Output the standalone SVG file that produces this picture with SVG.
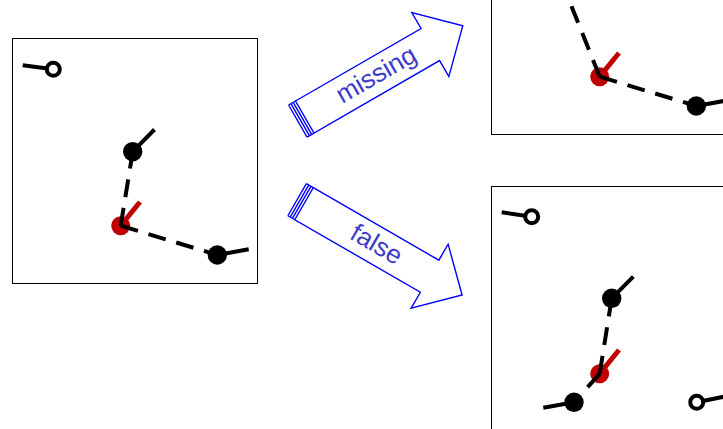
<svg xmlns="http://www.w3.org/2000/svg" xmlns:xlink="http://www.w3.org/1999/xlink" width="723" height="429" viewBox="0 0 723 429">
  <style>
    .box { fill: none; stroke: #000; stroke-width: 1; }
    .tail { stroke: #000; stroke-width: 4; fill: none; }
    .dot { fill: #000; }
    .open { fill: #fff; stroke: #000; stroke-width: 4; }
    .red { fill: #c00000; }
    .redtail { stroke: #c00000; stroke-width: 5; fill: none; }
    .dash { stroke: #000; stroke-width: 4; stroke-dasharray: 18 11; fill: none; }
    .arrow { fill: #fff; stroke: #0000ff; stroke-width: 1.4; stroke-linejoin: miter; }
    .lbl { font-family: "Liberation Sans", Arial, sans-serif; font-size: 26px; fill: #3c3cc8; text-anchor: middle; }
  </style>
  <defs>
    <!-- block arrow drawn along +x, 37 wide, with a striped tail -->
    <g id="bigArrow">
      <polygon class="arrow" points="0,0 145,0 145,-18.5 182.5,18.5 145,55.5 145,37 0,37"/>
      <path class="arrow" d="M-8,0 H0 M-8,37 H0 M-8,0 V37 M-5.3,0 V37 M-2.7,0 V37"/>
    </g>
  </defs>

  <!-- left panel -->
  <g id="panel-left" transform="translate(12,38)">
    <rect class="box" x="0.5" y="0.5" width="245" height="245"/>
    <g id="L-red">
      <circle class="red" cx="108.7" cy="187.7" r="9.5"/>
      <line class="redtail" x1="108.7" y1="187.7" x2="128" y2="164"/>
    </g>
    <g id="L-connectors">
      <path class="dash" d="M108.7,187.7 L120.7,113.7"/>
      <path class="dash" d="M108.7,187.7 L205.3,217"/>
    </g>
    <g id="L-open1">
      <line class="tail" x1="41.3" y1="31.3" x2="10.7" y2="27.3"/>
      <circle class="open" cx="41.3" cy="31.3" r="6.5"/>
    </g>
    <g id="L-node1">
      <line class="tail" x1="120.7" y1="113.7" x2="142.5" y2="91.5"/>
      <circle class="dot" cx="120.7" cy="113.7" r="9.7"/>
    </g>
    <g id="L-node2">
      <line class="tail" x1="205.3" y1="217" x2="236.7" y2="211.3"/>
      <circle class="dot" cx="205.3" cy="217" r="9.7"/>
    </g>
  </g>

  <!-- upper arrow -->
  <g id="arrow-missing" transform="translate(295.5,101) rotate(-30)">
    <use xlink:href="#bigArrow"/>
    <text class="lbl" x="83" y="26">missing</text>
  </g>

  <!-- lower arrow -->
  <g id="arrow-false" transform="translate(313.3,187.7) rotate(30)">
    <use xlink:href="#bigArrow"/>
    <text class="lbl" x="83" y="26">false</text>
  </g>

  <!-- upper right panel -->
  <g id="panel-missing" transform="translate(491,-111)">
    <rect class="box" x="0.5" y="0.5" width="245" height="245"/>
    <g id="M-red">
      <circle class="red" cx="108.7" cy="187.7" r="9.5"/>
      <line class="redtail" x1="108.7" y1="187.7" x2="128" y2="164"/>
    </g>
    <g id="M-connectors">
      <path class="dash" d="M108.7,187.7 L60.3,66.8"/>
      <path class="dash" d="M108.7,187.7 L205.3,217"/>
    </g>
    <g id="M-node2">
      <line class="tail" x1="205.3" y1="217" x2="236.7" y2="211.3"/>
      <circle class="dot" cx="205.3" cy="217" r="9.7"/>
    </g>
  </g>

  <!-- lower right panel -->
  <g id="panel-false" transform="translate(491,186)">
    <rect class="box" x="0.5" y="0.5" width="245" height="245"/>
    <g id="F-red">
      <circle class="red" cx="108.7" cy="187.7" r="9.5"/>
      <line class="redtail" x1="108.7" y1="187.7" x2="128" y2="164"/>
    </g>
    <g id="F-connectors">
      <path class="dash" d="M108.7,187.7 L120.7,112.3"/>
      <path class="dash" d="M108.7,187.7 L83,216.3"/>
    </g>
    <g id="F-open1">
      <line class="tail" x1="40.7" y1="30.7" x2="10.7" y2="26.3"/>
      <circle class="open" cx="40.7" cy="30.7" r="6.5"/>
    </g>
    <g id="F-node1">
      <line class="tail" x1="120.7" y1="112.3" x2="142.3" y2="90.7"/>
      <circle class="dot" cx="120.7" cy="112.3" r="9.7"/>
    </g>
    <g id="F-node3">
      <line class="tail" x1="83" y1="216.3" x2="52.3" y2="221.7"/>
      <circle class="dot" cx="83" cy="216.3" r="9.7"/>
    </g>
    <g id="F-open2">
      <line class="tail" x1="205.7" y1="216.3" x2="236.3" y2="210"/>
      <circle class="open" cx="205.7" cy="216.3" r="6.5"/>
    </g>
  </g>
</svg>
